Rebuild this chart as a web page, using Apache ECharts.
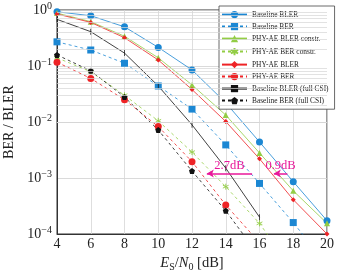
<!DOCTYPE html>
<html><head><meta charset="utf-8">
<script src="https://cdn.jsdelivr.net/npm/echarts@6/dist/echarts.min.js"></script>
<style>html,body{margin:0;padding:0;background:#fff}#c{width:339px;height:276px}</style>
</head><body><div id="c"></div>
<script>
// ---- data ----
var snr = [4, 6, 8, 10, 12, 14, 16, 18, 20];
var baselineBLER = [0.93, 0.79, 0.50, 0.215, 0.085, 0.022, 0.0044, 8.6e-4, 1.73e-4];
var baselineBER = [0.27, 0.193, 0.112, 0.044, 0.017, 0.0039, 8.0e-4, 1.6e-4, 2.8e-5];
var aeBLERconstr = [0.88, 0.62, 0.34, 0.14, 0.046, 0.0133, 0.0028, 5.9e-4, 1.55e-4];
var aeBERconstr = [0.14, 0.079, 0.030, 0.0105, 0.0029, 7.0e-4, 1.55e-4, 2.2e-5];
var aeBLER = [0.85, 0.60, 0.32, 0.128, 0.038, 0.0102, 0.0022, 4.1e-4, 1.0e-4];
var aeBER = [0.117, 0.060, 0.025, 0.0083, 0.00196, 3.3e-4, 7.0e-5];
var fullBLER = [0.68, 0.41, 0.17, 0.044, 0.0089, 0.0015, 2.0e-4];
var fullBER = [0.158, 0.082, 0.028, 0.0072, 0.00133, 2.6e-4, 4.0e-5];
var seriesNames = ['Baseline BLER', 'Baseline BER', 'PHY-AE BLER constr.', 'PHY-AE BER constr.',
  'PHY-AE BLER', 'PHY-AE BER', 'Baseline BLER (full CSI)', 'Baseline BER (full CSI)'];
var xTicks = [4, 6, 8, 10, 12, 14, 16, 18, 20];
var yDecades = [-4, -3, -2, -1, 0];
var gainArrows = [
  {from: 15.56, to: 12.88, y: 1.2e-3, label: '2.7dB'},
  {from: 17.65, to: 16.85, y: 1.2e-3, label: '0.9dB'}
];

// ---- styles ----
var FONT = 'Liberation Serif';
var BLUE = '#1b87d3', GREEN = '#93cd45', RED = '#ee2326', BLACK = '#111', MAG = '#e8179a';
var PENT = 'path://M5,0 L10,3.8 L8.1,10 L1.9,10 L0,3.8 Z';
var STAR = 'path://M5,0 L5,10 M0.2,2.6 L9.8,7.4 M0.2,7.4 L9.8,2.6';
var PIPE = 'path://M4.4,0 L5.6,0 L5.6,10 L4.4,10 Z';

function pairs(vals) { return vals.map(function (v, i) { return [snr[i], v]; }); }

function mk(name, vals, color, dashed, symbol, size, stroked) {
  return {
    name: name, type: 'line', data: pairs(vals), clip: true,
    symbol: symbol, symbolSize: size, symbolKeepAspect: true,
    lineStyle: {color: color, width: 0.8, type: dashed ? [3, 3] : 'solid'},
    itemStyle: stroked ? {color: color, borderColor: color, borderWidth: 0.9}
                       : {color: color, borderColor: color, borderWidth: 0},
    emphasis: {disabled: true}, animation: false, z: 3
  };
}

var minorLines = [];
yDecades.slice(0, -1).forEach(function (d) {
  for (var m = 2; m <= 9; m++) minorLines.push({yAxis: m * Math.pow(10, d)});
});

var series = [
  mk(seriesNames[0], baselineBLER, BLUE, false, 'circle', 7),
  mk(seriesNames[1], baselineBER, BLUE, true, 'rect', 7),
  mk(seriesNames[2], aeBLERconstr, GREEN, false, 'triangle', 6),
  mk(seriesNames[3], aeBERconstr, GREEN, true, STAR, 6, true),
  mk(seriesNames[4], aeBLER, RED, false, 'diamond', 5),
  mk(seriesNames[5], aeBER, RED, true, 'circle', 7),
  mk(seriesNames[6], fullBLER, BLACK, false, PIPE, 6),
  mk(seriesNames[7], fullBER, BLACK, true, PENT, 6)
];

// minor grid lines
series.push({
  name: 'minor', type: 'line', data: [], silent: true, z: 1,
  markLine: {silent: true, symbol: 'none', animation: false, label: {show: false},
    lineStyle: {color: '#d6d6d6', width: 0.7, type: 'solid'}, data: minorLines}
});

// gain arrows
series.push({
  name: 'gain', type: 'line', data: [], silent: true, z: 5,
  markLine: {
    silent: true, animation: false, symbol: ['none', 'arrow'], symbolSize: [6, 7],
    lineStyle: {color: MAG, width: 1.5, type: 'solid'},
    label: {show: true, position: 'insideMiddleTop', distance: 1, color: MAG,
      fontFamily: FONT, fontSize: 12.5, formatter: function (p) { return p.data.lab; }},
    data: gainArrows.map(function (a) {
      return [{coord: [a.from, a.y], lab: a.label}, {coord: [a.to, a.y]}];
    })
  }
});

var chart = echarts.init(document.getElementById('c'), null, {renderer: 'canvas'});
chart.setOption({
  animation: false,
  backgroundColor: '#fff',
  grid: {left: 57, right: 12, top: 10, bottom: 42, show: true, borderColor: '#333', borderWidth: 1,
    containLabel: false, outerBoundsMode: 'none'},
  legend: {
    orient: 'vertical', left: 219, top: 6,
    data: seriesNames,
    itemWidth: 25, itemHeight: 9, itemGap: 4.8,
    padding: [5, 6, 5, 2],
    backgroundColor: '#fff', borderColor: '#444', borderWidth: 0.8,
    textStyle: {fontFamily: FONT, fontSize: 7.4, color: '#222'},
    selectedMode: false
  },
  xAxis: {
    type: 'value', min: 4, max: 20, interval: 2,
    axisLine: {show: true, lineStyle: {color: '#333'}}, axisTick: {show: false},
    splitLine: {show: true, lineStyle: {color: '#d6d6d6', width: 0.8}},
    axisLabel: {color: '#222', fontFamily: FONT, fontSize: 14, margin: 3},
    name: '{i|E}{sub|S}{n|/}{i|N}{sub|0}{n| [dB]}',
    nameLocation: 'middle', nameGap: 20,
    nameTextStyle: {
      fontFamily: FONT, fontSize: 14, color: '#222',
      rich: {
        i: {fontFamily: FONT, fontStyle: 'italic', fontSize: 14.5, lineHeight: 17, color: '#222'},
        n: {fontFamily: FONT, fontSize: 14.5, lineHeight: 17, color: '#222'},
        sub: {fontFamily: FONT, fontSize: 10, lineHeight: 10, verticalAlign: 'bottom', color: '#222'}
      }
    }
  },
  yAxis: {
    type: 'log', logBase: 10, min: 1e-4, max: 1, interval: 1,
    axisLine: {show: true, lineStyle: {color: '#333'}}, axisTick: {show: false},
    splitLine: {show: true, lineStyle: {color: '#d0d0d0', width: 0.8}},
    axisLabel: {
      margin: 5, fontFamily: FONT,
      formatter: function (v) {
        var e = Math.round(Math.log10(v));
        return '{b|10}{s|' + (e < 0 ? '\u2212' + (-e) : e) + '}';
      },
      rich: {
        b: {fontFamily: FONT, fontSize: 14, lineHeight: 18, color: '#222'},
        s: {fontFamily: FONT, fontSize: 10, lineHeight: 10, verticalAlign: 'top', color: '#222'}
      }
    },
    name: 'BER / BLER', nameLocation: 'middle', nameGap: 40, nameRotate: 90,
    nameTextStyle: {fontFamily: FONT, fontSize: 14, color: '#222'}
  },
  series: series
});
</script></body></html>
